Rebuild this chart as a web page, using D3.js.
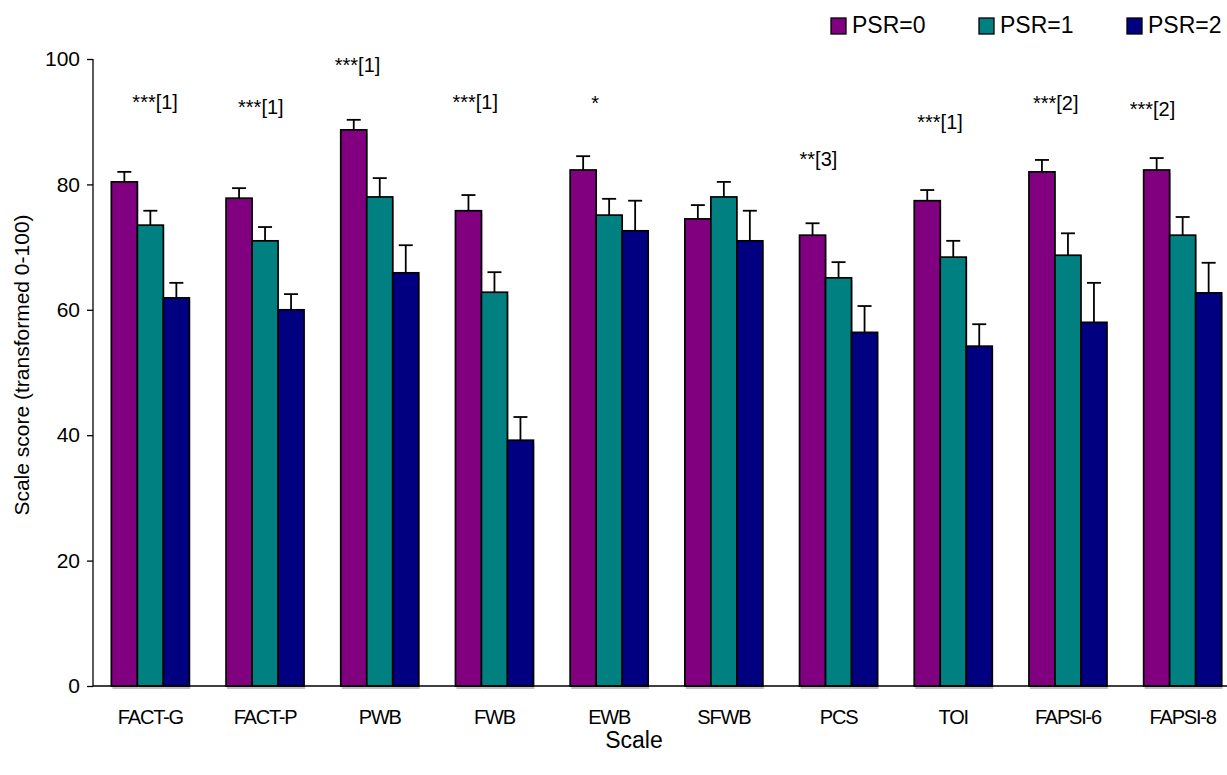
<!DOCTYPE html>
<html>
<head>
<meta charset="utf-8">
<script src="https://cdn.jsdelivr.net/npm/d3@7"></script>
<style>
  html, body { margin: 0; padding: 0; background: #fff; }
  svg { display: block; font-family: "Liberation Sans", Arial, sans-serif; }
</style>
</head>
<body>
<div id="chart"></div>
<script>
const categories = ["FACT-G", "FACT-P", "PWB", "FWB", "EWB", "SFWB", "PCS", "TOI", "FAPSI-6", "FAPSI-8"];
const seriesNames = ["PSR=0", "PSR=1", "PSR=2"];

const psr0 = [80.4, 77.8, 88.7, 75.8, 82.3, 74.5, 71.9, 77.4, 82.0, 82.3];
const psr1 = [73.5, 71.0, 78.0, 62.8, 75.1, 78.0, 65.1, 68.4, 68.7, 71.9];
const psr2 = [61.9, 60.0, 65.9, 39.2, 72.6, 71.0, 56.4, 54.2, 58.0, 62.7];

const psr0Err = [1.6, 1.6, 1.6, 2.5, 2.2, 2.2, 1.9, 1.7, 1.9, 1.9];
const psr1Err = [2.3, 2.2, 3.0, 3.2, 2.6, 2.4, 2.5, 2.6, 3.5, 2.9];
const psr2Err = [2.4, 2.5, 4.4, 3.7, 4.8, 4.8, 4.2, 3.5, 6.3, 4.8];

const annotText = ["***[1]", "***[1]", "***[1]", "***[1]", "*", "", "**[3]", "***[1]", "***[2]", "***[2]"];
const annotLevel = [92.0, 91.2, 97.9, 92.0, 91.9, 0, 82.9, 88.8, 91.9, 90.9];

const yTicks = [0, 20, 40, 60, 80, 100];

// layout
const width = 1227, height = 775;
const annotDx = [21, 12, -6, -3, 21, 0, 0, 3, 4, -14];

const values = [psr0, psr1, psr2];
const errors = [psr0Err, psr1Err, psr2Err];

const svg = d3.select("#chart")
    .append("svg")
    .attr("width", width)
    .attr("height", height);

// =========================
// SCALES
// =========================
const x0 = d3.scaleBand()
    .domain(categories)
    .range([93, 1240])
    .paddingInner(0.32)
    .paddingOuter(0.16);

const x1 = d3.scaleBand()
    .domain(seriesNames)
    .range([0, x0.bandwidth()]);

const y = d3.scaleLinear()
    .domain([0, 100])
    .range([686, 59]);

const color = d3.scaleOrdinal()
    .domain(seriesNames)
    .range(["#800080", "#008080", "#000080"]);

// =========================
// BARS
// =========================
const rows = categories.map((c, i) => ({
    cat: c,
    bars: seriesNames.map((s, k) => ({ key: s, value: values[k][i], err: errors[k][i] }))
}));

const groups = svg.append("g")
    .selectAll("g")
    .data(rows)
    .enter()
    .append("g")
    .attr("transform", d => `translate(${x0(d.cat)},0)`);

// shadow under the bars
groups.selectAll("rect.shadow")
    .data(d => d.bars)
    .enter()
    .append("rect")
    .attr("class", "shadow")
    .attr("x", d => x1(d.key) + 1)
    .attr("y", d => y(d.value) + 3)
    .attr("width", x1.bandwidth())
    .attr("height", d => y(0) - y(d.value))
    .attr("fill", "#c0c0c0");

groups.selectAll("rect.bar")
    .data(d => d.bars)
    .enter()
    .append("rect")
    .attr("class", "bar")
    .attr("x", d => x1(d.key))
    .attr("y", d => y(d.value))
    .attr("width", x1.bandwidth())
    .attr("height", d => y(0) - y(d.value))
    .attr("fill", d => color(d.key))
    .attr("stroke", "#000")
    .attr("stroke-width", 1.7);

// error bars
const eb = groups.selectAll("g.err")
    .data(d => d.bars)
    .enter()
    .append("g")
    .attr("stroke", "#000")
    .attr("stroke-width", 1.8);

eb.append("line")
    .attr("x1", d => x1(d.key) + x1.bandwidth() / 2)
    .attr("x2", d => x1(d.key) + x1.bandwidth() / 2)
    .attr("y1", d => y(d.value))
    .attr("y2", d => y(d.value + d.err));

eb.append("line")
    .attr("x1", d => x1(d.key) + x1.bandwidth() / 2 - 7)
    .attr("x2", d => x1(d.key) + x1.bandwidth() / 2 + 7)
    .attr("y1", d => y(d.value + d.err))
    .attr("y2", d => y(d.value + d.err));

// =========================
// AXES
// =========================
const yAxis = svg.append("g")
    .attr("transform", "translate(93,0)")
    .call(d3.axisLeft(y).tickValues(yTicks).tickSize(6).tickPadding(7));

yAxis.select(".domain").attr("stroke", "#000").attr("stroke-width", 1.3)
    .attr("d", `M0,${y(100)}V${y(0)}`);
yAxis.selectAll(".tick line").attr("stroke", "#000").attr("stroke-width", 1.3);
yAxis.selectAll(".tick text")
    .attr("fill", "#000")
    .style("font-size", "21px")
    .style("font-family", "Liberation Sans, Arial, sans-serif");

const xAxis = svg.append("g")
    .attr("transform", `translate(0,${y(0)})`)
    .call(d3.axisBottom(x0).tickSize(0).tickPadding(24));

xAxis.select(".domain").attr("stroke", "#000").attr("stroke-width", 1.3)
    .attr("d", `M93,0H${width}`);
xAxis.selectAll(".tick text")
    .attr("fill", "#000")
    .style("font-size", "20px")
    .style("letter-spacing", "-1.2px")
    .style("font-family", "Liberation Sans, Arial, sans-serif");

// axis titles
svg.append("text")
    .attr("x", 634)
    .attr("y", 748)
    .attr("text-anchor", "middle")
    .style("font-size", "23px")
    .text("Scale");

svg.append("text")
    .attr("transform", "translate(29,365) rotate(-90)")
    .attr("text-anchor", "middle")
    .style("font-size", "21px")
    .text("Scale score (transformed 0-100)");

// =========================
// SIGNIFICANCE LABELS
// =========================
svg.append("g")
    .selectAll("text")
    .data(categories.map((c, i) => ({ cat: c, text: annotText[i], level: annotLevel[i], dx: annotDx[i] })))
    .enter()
    .append("text")
    .attr("x", d => x0(d.cat) + d.dx)
    .attr("y", d => y(d.level))
    .style("font-size", "20px")
    .text(d => d.text);

// =========================
// LEGEND
// =========================
const legend = svg.append("g");
const legendX = [831, 979, 1127];

seriesNames.forEach((key, i) => {
    const g = legend.append("g")
        .attr("transform", `translate(${legendX[i]}, 18)`);

    g.append("rect")
        .attr("width", 15)
        .attr("height", 16)
        .attr("fill", color(key))
        .attr("stroke", "#000")
        .attr("stroke-width", 1.3);

    g.append("text")
        .attr("x", 21)
        .attr("y", 15)
        .style("font-size", "23px")
        .text(key);
});
</script>
</body>
</html>
